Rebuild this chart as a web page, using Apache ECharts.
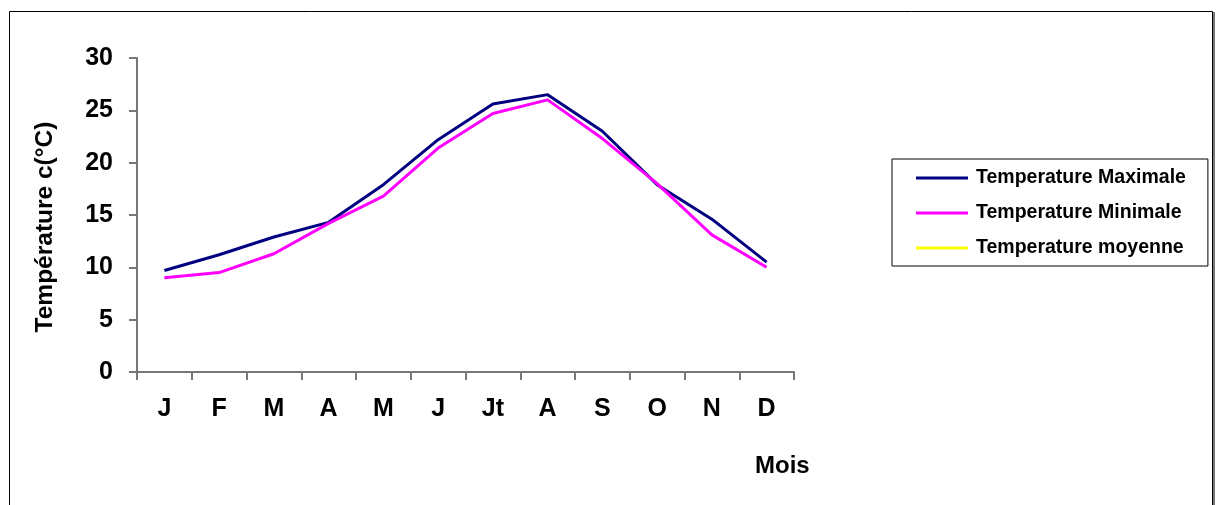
<!DOCTYPE html>
<html>
<head>
<meta charset="utf-8">
<script src="https://cdn.jsdelivr.net/npm/echarts@6/dist/echarts.min.js"></script>
<style>
html,body{margin:0;padding:0;background:#fff;}
#chart{width:1218px;height:505px;}
</style>
</head>
<body>
<div id="chart"></div>
<script>
var months = ['J','F','M','A','M','J','Jt','A','S','O','N','D'];
var tempMax = [9.7, 11.2, 12.9, 14.3, 17.9, 22.2, 25.6, 26.5, 23.0, 17.9, 14.6, 10.5];
var tempMin = [9.0, 9.5, 11.3, 14.2, 16.8, 21.4, 24.7, 26.0, 22.3, 18.0, 13.1, 10.0];
var tempMoy = [];
var seriesNames = ['Temperature Maximale','Temperature Minimale','Temperature moyenne'];
var yTitle = 'Température c(°C)';
var xTitle = 'Mois';

var FONT = '"Liberation Sans", Arial, sans-serif';
var chart = echarts.init(document.getElementById('chart'), null, {renderer:'canvas'});
chart.setOption({
  animation: false,
  backgroundColor: '#ffffff',
  grid: {left:137, top:58, right:424, bottom:133, containLabel:false},
  graphic: [
    {type:'rect', shape:{x:9.5, y:11.5, width:1203, height:700}, style:{fill:'none', stroke:'#000', lineWidth:1}, silent:true, z:-1},
    {type:'line', shape:{x1:1214, y1:12, x2:1214, y2:505}, style:{stroke:'#777', lineWidth:2}, silent:true, z:-1},
    {type:'text', left:755, top:454, style:{text:xTitle, font:'bold 24px ' + FONT, fill:'#000'}, silent:true},
    {type:'text', x:45, y:227, rotation:Math.PI/2,
     style:{text:yTitle, x:0, y:0, font:'bold 24.5px ' + FONT, fill:'#000', align:'center', verticalAlign:'middle', textAlign:'center', textVerticalAlign:'middle'}, silent:true}
  ],
  legend: {
    orient:'vertical',
    left:892, top:159,
    padding:[9,22,8,24],
    borderColor:'#000', borderWidth:1,
    itemWidth:52, itemHeight:3,
    itemGap:15,
    icon:'rect',
    textStyle:{fontFamily:FONT, fontWeight:'bold', fontSize:19.5, color:'#000', padding:[0,0,0,3]},
    data: seriesNames
  },
  xAxis: {
    type:'category',
    data: months,
    boundaryGap:true,
    axisLine:{show:true, lineStyle:{color:'#777', width:2}},
    axisTick:{show:true, length:8, inside:false, lineStyle:{color:'#777', width:2}},
    axisLabel:{margin:25, fontFamily:FONT, fontWeight:'bold', fontSize:25, color:'#000'},
    splitLine:{show:false}
  },
  yAxis: {
    type:'value',
    min:0, max:30, interval:5,
    axisLine:{show:true, lineStyle:{color:'#777', width:2}},
    axisTick:{show:true, length:8, inside:false, lineStyle:{color:'#777', width:2}},
    axisLabel:{margin:24, fontFamily:FONT, fontWeight:'bold', fontSize:25, color:'#000'},
    splitLine:{show:false}
  },
  series: [
    {name:seriesNames[0], type:'line', data:tempMax, symbol:'none', lineStyle:{color:'#000080', width:3}, itemStyle:{color:'#000080'}},
    {name:seriesNames[1], type:'line', data:tempMin, symbol:'none', lineStyle:{color:'#FF00FF', width:3}, itemStyle:{color:'#FF00FF'}},
    {name:seriesNames[2], type:'line', data:tempMoy, symbol:'none', lineStyle:{color:'#FFFF00', width:3}, itemStyle:{color:'#FFFF00'}}
  ]
});
</script>
</body>
</html>
